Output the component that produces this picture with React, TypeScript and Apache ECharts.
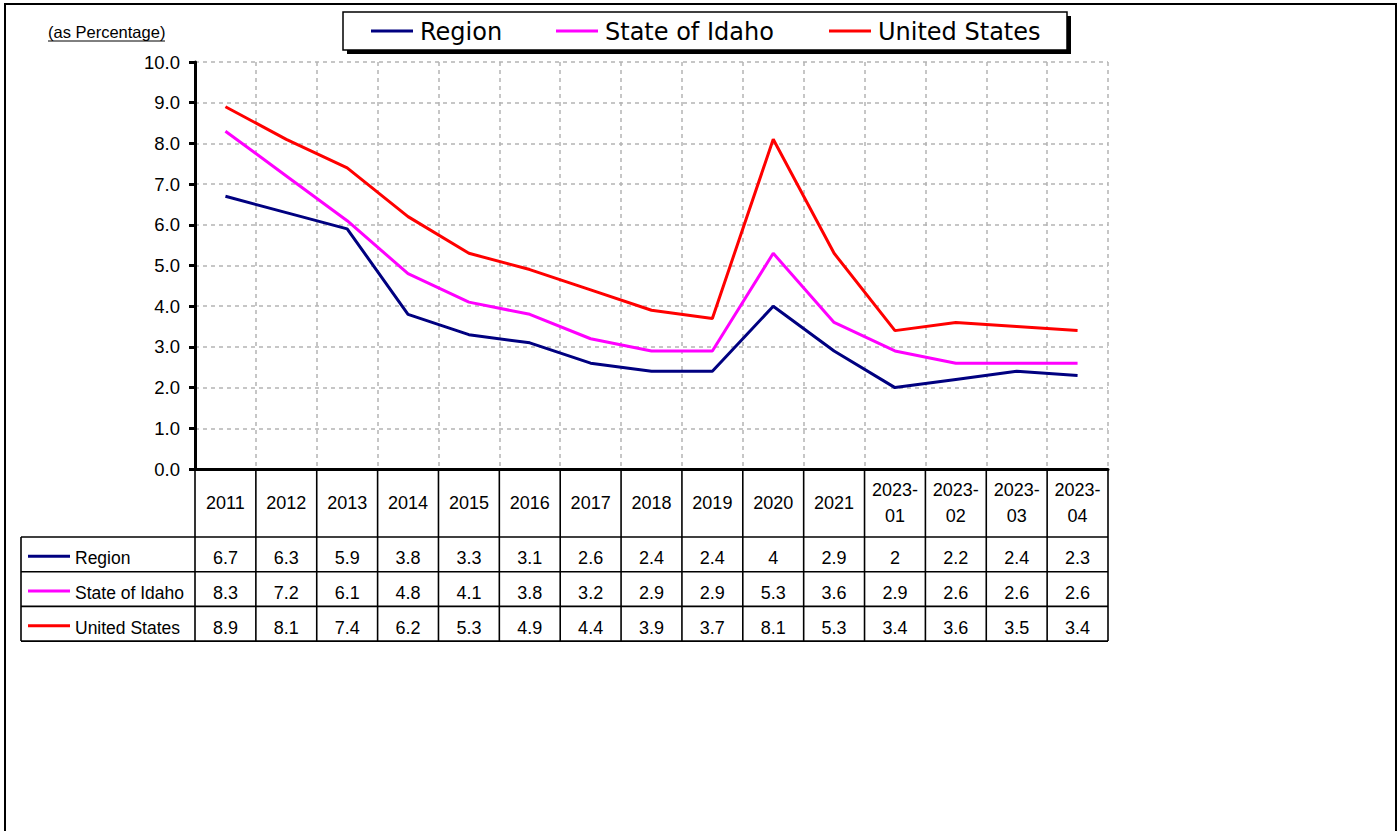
import React, { useEffect, useRef } from "react";
import * as echarts from "echarts";

const categories = ["2011", "2012", "2013", "2014", "2015", "2016", "2017", "2018", "2019", "2020", "2021", "2023-01", "2023-02", "2023-03", "2023-04"];
const seriesNames = ["Region", "State of Idaho", "United States"];
const seriesColors = ["#000080", "#FF00FF", "#FF0000"];
const regionValues = [6.7, 6.3, 5.9, 3.8, 3.3, 3.1, 2.6, 2.4, 2.4, 4, 2.9, 2, 2.2, 2.4, 2.3];
const idahoValues = [8.3, 7.2, 6.1, 4.8, 4.1, 3.8, 3.2, 2.9, 2.9, 5.3, 3.6, 2.9, 2.6, 2.6, 2.6];
const usValues = [8.9, 8.1, 7.4, 6.2, 5.3, 4.9, 4.4, 3.9, 3.7, 8.1, 5.3, 3.4, 3.6, 3.5, 3.4];
const seriesValues = [regionValues, idahoValues, usValues];
const yTicks = { min: 0, max: 10, interval: 1 };
const unitLabel = "(as Percentage)";

const FONT = "'Liberation Sans', Arial, sans-serif";
const LEGEND_FONT = "'DejaVu Sans', Verdana, sans-serif";

export default function App() {
  const ref = useRef<HTMLDivElement>(null);
  useEffect(() => {
    if (!ref.current) return;
    const chart = echarts.init(ref.current, null, { renderer: "svg" });
    const gridDash = { color: "#b4b4b4", type: [4, 4] as any, width: 1.5 };
    chart.setOption({
      animation: false,
      backgroundColor: "#fff",
      grid: { left: 195, right: 291, top: 62, bottom: 362, containLabel: false },
      xAxis: {
        type: "category",
        data: categories,
        boundaryGap: true,
        axisLine: { show: true, lineStyle: { color: "#000", width: 3 } },
        axisTick: { show: false },
        axisLabel: { show: false },
        splitLine: { show: true, lineStyle: gridDash },
      },
      yAxis: {
        type: "value",
        min: yTicks.min,
        max: yTicks.max,
        interval: yTicks.interval,
        axisLine: { show: true, lineStyle: { color: "#000", width: 3 } },
        axisTick: { show: true, length: 6, lineStyle: { color: "#000", width: 3 } },
        axisLabel: {
          formatter: (v: number) => v.toFixed(1),
          fontSize: 18.5,
          color: "#000",
          fontFamily: FONT,
          margin: 15,
        },
        splitLine: { show: true, lineStyle: gridDash },
      },
      series: seriesNames.map((name, i) => ({
        name,
        type: "line",
        data: seriesValues[i],
        showSymbol: false,
        symbol: "none",
        lineStyle: { color: seriesColors[i], width: 3 },
        itemStyle: { color: seriesColors[i] },
        z: 3 + i,
      })),
    });

    const cx = categories.map((_, i) => chart.convertToPixel({ xAxisIndex: 0 }, i) as number);
    const colW = cx[1] - cx[0];
    const left = cx[0] - colW / 2;
    const right = left + colW * categories.length;
    const y0 = chart.convertToPixel({ yAxisIndex: 0 }, 0) as number;
    const headerBottom = 537;
    const rowH = 34.7;
    const rowLines = [0, 1, 2, 3].map((k) => headerBottom + k * rowH);
    const tableLeft = 21;
    const lineStyle = { stroke: "#000", lineWidth: 1.6 };

    const elements: any[] = [];
    // outer frame
    elements.push({ type: "rect", shape: { x: 5, y: 4, width: 1391, height: 860 }, style: { fill: "none", stroke: "#000", lineWidth: 2 }, silent: true, z: 1 });
    // unit label
    elements.push({ type: "text", x: 48, y: 32, style: { text: unitLabel, fontSize: 16.5, fontFamily: FONT, fill: "#000", verticalAlign: "middle" }, z: 10 });
    elements.push({ type: "line", shape: { x1: 48, y1: 41, x2: 165, y2: 41 }, style: { stroke: "#000", lineWidth: 1 }, z: 10 });
    // legend
    elements.push({ type: "rect", shape: { x: 347, y: 16, width: 724, height: 38 }, style: { fill: "#000" }, z: 10 });
    elements.push({ type: "rect", shape: { x: 343, y: 12, width: 724, height: 38 }, style: { fill: "#fff", stroke: "#000", lineWidth: 1.5 }, z: 11 });
    const legendX = [371, 556, 829];
    seriesNames.forEach((name, i) => {
      elements.push({ type: "line", shape: { x1: legendX[i], y1: 31, x2: legendX[i] + 42, y2: 31 }, style: { stroke: seriesColors[i], lineWidth: 3 }, z: 12 });
      elements.push({ type: "text", x: legendX[i] + 49, y: 32, style: { text: name, fontSize: 24, fontFamily: LEGEND_FONT, fill: "#000", verticalAlign: "middle" }, z: 12 });
    });
    // table vertical lines
    for (let j = 0; j <= categories.length; j++) {
      const x = left + j * colW;
      elements.push({ type: "line", shape: { x1: x, y1: y0, x2: x, y2: rowLines[3] }, style: lineStyle, z: 10 });
    }
    elements.push({ type: "line", shape: { x1: tableLeft, y1: headerBottom, x2: tableLeft, y2: rowLines[3] }, style: lineStyle, z: 10 });
    rowLines.forEach((y) => {
      elements.push({ type: "line", shape: { x1: tableLeft, y1: y, x2: right, y2: y }, style: lineStyle, z: 10 });
    });
    // header labels
    categories.forEach((c, i) => {
      elements.push({
        type: "text",
        x: cx[i],
        y: (y0 + headerBottom) / 2,
        style: { text: c.replace("-", "-\n"), fontSize: 18, lineHeight: 26, fontFamily: FONT, fill: "#000", align: "center", verticalAlign: "middle" },
        z: 11,
      });
    });
    // rows
    seriesNames.forEach((name, r) => {
      const yc = rowLines[r] + rowH / 2 + 4;
      elements.push({ type: "line", shape: { x1: 28, y1: yc - 2, x2: 70, y2: yc - 2 }, style: { stroke: seriesColors[r], lineWidth: 3 }, z: 11 });
      elements.push({ type: "text", x: 75, y: yc, style: { text: name, fontSize: 17.5, fontFamily: FONT, fill: "#000", verticalAlign: "middle" }, z: 11 });
      seriesValues[r].forEach((v, i) => {
        elements.push({ type: "text", x: cx[i], y: yc, style: { text: String(v), fontSize: 18, fontFamily: FONT, fill: "#000", align: "center", verticalAlign: "middle" }, z: 11 });
      });
    });

    chart.setOption({ graphic: { elements } });
    return () => chart.dispose();
  }, []);
  return <div ref={ref} style={{ position: "fixed", left: 0, top: 0, width: 1399, height: 831 }} />;
}
